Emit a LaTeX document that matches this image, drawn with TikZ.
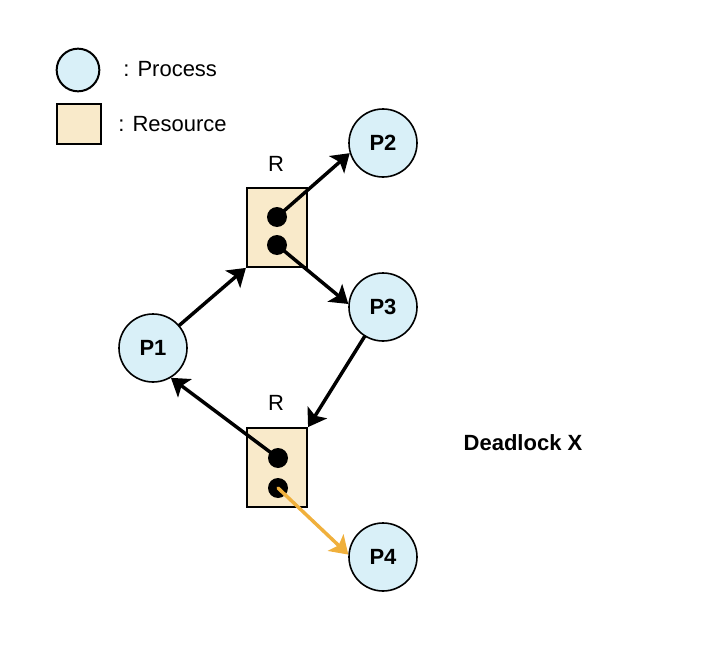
\documentclass[tikz,border=0pt]{standalone}
\usepackage{fontspec}
\setmainfont{Liberation Sans}
\usetikzlibrary{arrows.meta}
\definecolor{procfill}{HTML}{D9F0F8}
\definecolor{resfill}{HTML}{F9EACA}
\definecolor{grantorange}{HTML}{F0B03C}
\newcommand\diagfont{\fontsize{16.5}{19}\selectfont}
\tikzset{
  proc/.style={circle,draw,line width=1.2pt,fill=procfill,minimum size=51pt,inner sep=0pt,font=\diagfont\bfseries},
  res/.style={draw,line width=1.6pt,fill=resfill,minimum width=45pt,minimum height=59pt,inner sep=0pt},
  tok/.style={circle,fill=black,minimum size=15pt,inner sep=0pt},
  flow/.style={line width=2.6pt,-{Stealth[length=13pt,width=17pt,inset=3pt]}},
  lbl/.style={inner sep=0pt,font=\diagfont}
}
\begin{document}
\begin{tikzpicture}[x=0.75pt,y=-0.75pt,line cap=round]
  \useasboundingbox (0,0) rectangle (726,646);
  \node[proc,minimum size=32pt,line width=1.5pt] (LP) at (78,70) {};
  \node[res,minimum width=33pt,minimum height=30pt] (LR) at (79,124) {};
  \node[lbl,anchor=west] (LPtext) at (123,69) {: Process};
  \node[lbl,anchor=west] (LRtext) at (118,124) {: Resource};

  \node[proc] (P1) at (153,348) {P1};
  \node[proc] (P2) at (383,143) {P2};
  \node[proc] (P3) at (383,307) {P3};
  \node[proc] (P4) at (383,557) {P4};

  \node[res] (R1) at (277,227.5) {};
  \node[res] (R2) at (277,467.5) {};
  \node[lbl] (R1name) at (276,164) {R};
  \node[lbl] (R2name) at (276,403) {R};
  \node[tok] (t1) at (277,217) {};
  \node[tok] (t2) at (277,245) {};
  \node[tok] (t3) at (278,458) {};
  \node[tok] (t4) at (278,488) {};

  \draw[flow] (P1) -- (R1.south west);
  \draw[flow] (t1.center) -- (P2.197);
  \draw[flow] (t2.center) -- (P3.175);
  \draw[flow] (P3) -- (R2.north east);
  \draw[flow] (t3.center) -- (P1.-59);
  \draw[flow,grantorange] (t4.center) -- (P4.176);

  \node[lbl,font=\diagfont\bfseries] (dead) at (523,443) {Deadlock X};
\end{tikzpicture}
\end{document}
